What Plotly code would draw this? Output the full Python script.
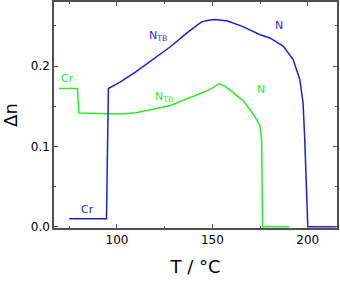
import plotly.graph_objects as go

# Blue series (temperature in °C, birefringence Δn)
blue_T = [75, 94.5, 95.5, 101.6, 110, 119, 128, 136.5, 144.3, 148, 151.4, 158, 166, 175, 180.1,
          187.1, 192.3, 195.8, 197.5, 198.4, 199.2, 200, 215]
blue_dn = [0.010, 0.010, 0.172, 0.180, 0.193, 0.208, 0.224, 0.241, 0.255, 0.257, 0.258, 0.256, 0.249,
           0.239, 0.235, 0.2248, 0.208, 0.1835, 0.1547, 0.109, 0.05, 0.0, 0.0]

# Green series
green_T = [69.6, 79.3, 80, 90, 101.6, 110, 119, 128, 136.5, 142, 145.2, 149, 153.6, 157, 160.9,
           166.1, 169.6, 172.5, 174.9, 175.8, 176.3, 190.2]
green_dn = [0.172, 0.172, 0.1415, 0.1405, 0.1402, 0.142, 0.1464, 0.151, 0.159, 0.164, 0.167, 0.171,
            0.178, 0.174, 0.167, 0.157, 0.146, 0.136, 0.126, 0.109, 0.0, 0.0]

# Phase labels
blue_labels = ["Cr", "N<sub>TB</sub>", "N"]
blue_label_T = [84.8, 121.5, 184.7]
blue_label_dn = [0.0214, 0.238, 0.250]
green_labels = ["Cr", "N<sub>TB</sub>", "N"]
green_label_T = [74.3, 124.5, 175.4]
green_label_dn = [0.185, 0.162, 0.171]

x_ticks = [100, 150, 200]
y_ticks = [0.0, 0.1, 0.2]

BLUE = "rgb(30,30,225)"
GREEN = "rgb(40,235,40)"
AX = "rgb(80,80,80)"
FONT = "DejaVu Sans"

fig = go.Figure()
fig.add_trace(go.Scatter(x=green_T, y=green_dn, mode="lines", line=dict(color=GREEN, width=1.5),
                         showlegend=False, hoverinfo="skip"))
fig.add_trace(go.Scatter(x=blue_T, y=blue_dn, mode="lines", line=dict(color=BLUE, width=1.5),
                         showlegend=False, hoverinfo="skip"))

for labels, xs, ys, col in [(blue_labels, blue_label_T, blue_label_dn, BLUE),
                            (green_labels, green_label_T, green_label_dn, GREEN)]:
    for t, x, y in zip(labels, xs, ys):
        fig.add_annotation(x=x, y=y, xref="x", yref="y", text=t, showarrow=False,
                           font=dict(color=col, size=11, family=FONT))

axis_common = dict(showline=True, linecolor=AX, linewidth=1.5, mirror="ticks", ticks="inside",
                   tickcolor=AX, ticklen=4, tickwidth=1, showgrid=False, zeroline=False,
                   automargin=False, tickfont=dict(family=FONT, size=12, color="black"))

fig.update_layout(
    width=340, height=283,
    margin=dict(l=54, r=3, t=2, b=55, autoexpand=False),
    paper_bgcolor="white", plot_bgcolor="white",
    xaxis=dict(range=[67, 215.3], tickvals=x_ticks, ticktext=[str(v) for v in x_ticks],
               minor=dict(dtick=25, tick0=0, ticks="inside", ticklen=2, tickcolor=AX),
               title=dict(text="T / °C", font=dict(family=FONT, size=18, color="black"), standoff=14),
               **axis_common),
    yaxis=dict(range=[-0.0015, 0.2797], tickvals=y_ticks, ticktext=["0.0", "0.1", "0.2"],
               minor=dict(dtick=0.05, tick0=0, ticks="inside", ticklen=2, tickcolor=AX),
               title=dict(text="Δn", font=dict(family=FONT, size=18, color="black"), standoff=8),
               **axis_common),
)

fig.write_html("out.html", config={"displayModeBar": False},
               post_script="document.body.style.margin='0px';document.body.style.overflow='hidden';")
